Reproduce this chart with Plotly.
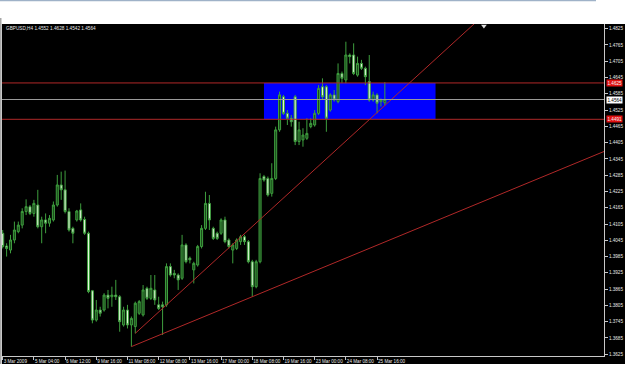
import plotly.graph_objects as go

# ---------------- data (GBPUSD, H4) ----------------
bar_index = list(range(99))
opens = [1.4071, 1.4024, 1.4009, 1.4046, 1.4077, 1.4101, 1.4151, 1.4169, 1.4144, 1.4175,
         1.4095, 1.4120, 1.4108, 1.4120, 1.4175, 1.4249, 1.4231, 1.4151, 1.4089, 1.4120,
         1.4157, 1.4122, 1.4071, 1.3859, 1.3751, 1.3788, 1.3788, 1.3843, 1.3837, 1.3843,
         1.3837, 1.3733, 1.3788, 1.3733, 1.3727, 1.3776, 1.3770, 1.3868, 1.3831, 1.3862,
         1.3807, 1.3807, 1.3807, 1.3948, 1.3923, 1.3917, 1.3905, 1.4028, 1.3979, 1.3936,
         1.3954, 1.4022, 1.4089, 1.4181, 1.4089, 1.4071, 1.4071, 1.4120, 1.4046, 1.4009,
         1.4015, 1.4040, 1.4058, 1.4040, 1.3966, 1.3874, 1.3966, 1.4280, 1.4273, 1.4218,
         1.4273, 1.4452, 1.4574, 1.4513, 1.4495, 1.4574, 1.4409, 1.4415, 1.4421, 1.4464,
         1.4470, 1.4513, 1.4611, 1.4611, 1.4525, 1.4581, 1.4556, 1.4660, 1.4636, 1.4728,
         1.4728, 1.4654, 1.4697, 1.4679, 1.4630, 1.4562, 1.4581, 1.4556, 1.4552]
highs = [1.4083, 1.4034, 1.4065, 1.4114, 1.4114, 1.4163, 1.4196, 1.4175, 1.4194, 1.4231,
         1.4132, 1.4144, 1.4138, 1.4188, 1.4286, 1.4298, 1.4302, 1.4163, 1.4095, 1.4157,
         1.4181, 1.4132, 1.4077, 1.3862, 1.3825, 1.3800, 1.3850, 1.3862, 1.3874, 1.3899,
         1.3843, 1.3800, 1.3807, 1.3764, 1.3819, 1.3825, 1.3880, 1.3874, 1.3917, 1.3917,
         1.3837, 1.3819, 1.3960, 1.3960, 1.3936, 1.3923, 1.4065, 1.4034, 1.3985, 1.3966,
         1.4028, 1.4101, 1.4224, 1.4212, 1.4095, 1.4077, 1.4126, 1.4132, 1.4052, 1.4034,
         1.4052, 1.4065, 1.4065, 1.4046, 1.3973, 1.3973, 1.4292, 1.4286, 1.4280, 1.4329,
         1.4464, 1.4593, 1.4581, 1.4525, 1.4507, 1.4581, 1.4482, 1.4458, 1.4495, 1.4495,
         1.4525, 1.4617, 1.4642, 1.4617, 1.4587, 1.4599, 1.4697, 1.4667, 1.4777, 1.4734,
         1.4771, 1.4722, 1.4710, 1.4685, 1.4728, 1.4593, 1.4587, 1.4568, 1.4628]
lows = [1.4015, 1.3985, 1.3997, 1.4034, 1.4071, 1.4089, 1.4138, 1.4138, 1.4132, 1.4089,
        1.4034, 1.4071, 1.4095, 1.4114, 1.4169, 1.4194, 1.4144, 1.4077, 1.4034, 1.4114,
        1.4114, 1.4065, 1.3850, 1.3739, 1.3745, 1.3764, 1.3782, 1.3794, 1.3800, 1.3825,
        1.3708, 1.3727, 1.3720, 1.3653, 1.3702, 1.3770, 1.3764, 1.3825, 1.3825, 1.3807,
        1.3788, 1.3696, 1.3800, 1.3911, 1.3905, 1.3862, 1.3899, 1.3960, 1.3960, 1.3886,
        1.3948, 1.4015, 1.4083, 1.4083, 1.4046, 1.4046, 1.4065, 1.4034, 1.4015, 1.3960,
        1.4009, 1.4028, 1.4028, 1.3960, 1.3837, 1.3868, 1.3960, 1.4261, 1.4206, 1.4206,
        1.4267, 1.4445, 1.4507, 1.4470, 1.4464, 1.4396, 1.4396, 1.4390, 1.4415, 1.4458,
        1.4464, 1.4507, 1.4562, 1.4445, 1.4519, 1.4556, 1.4550, 1.4624, 1.4624, 1.4697,
        1.4654, 1.4648, 1.4673, 1.4617, 1.4556, 1.4556, 1.4513, 1.4538, 1.4542]
closes = [1.4022, 1.4015, 1.4046, 1.4083, 1.4101, 1.4151, 1.4169, 1.4144, 1.4181, 1.4095,
          1.4120, 1.4108, 1.4126, 1.4175, 1.4249, 1.4231, 1.4151, 1.4083, 1.4071, 1.4153,
          1.4120, 1.4071, 1.3856, 1.3751, 1.3788, 1.3776, 1.3843, 1.3831, 1.3843, 1.3837,
          1.3745, 1.3788, 1.3733, 1.3757, 1.3813, 1.3819, 1.3862, 1.3831, 1.3868, 1.3825,
          1.3794, 1.3800, 1.3948, 1.3917, 1.3917, 1.3899, 1.4028, 1.3966, 1.3973, 1.3960,
          1.4022, 1.4089, 1.4181, 1.4120, 1.4052, 1.4052, 1.4120, 1.4040, 1.4022, 1.4028,
          1.4046, 1.4058, 1.4040, 1.3966, 1.3874, 1.3966, 1.4273, 1.4267, 1.4212, 1.4273,
          1.4452, 1.4581, 1.4513, 1.4495, 1.4482, 1.4409, 1.4452, 1.4433, 1.4439, 1.4476,
          1.4513, 1.4605, 1.4574, 1.4495, 1.4581, 1.4562, 1.4660, 1.4642, 1.4728, 1.4722,
          1.4660, 1.4697, 1.4679, 1.4648, 1.4562, 1.4581, 1.4550, 1.4562, 1.4564]

x_tick_bars = [0, 8, 16, 24, 32, 40, 48, 56, 64, 72, 80, 88, 96]
x_tick_labels = ["3 Mar 2009", "5 Mar 04:00", "6 Mar 12:00", "9 Mar 16:00", "11 Mar 08:00",
                 "12 Mar 08:00", "13 Mar 16:00", "17 Mar 00:00", "18 Mar 08:00",
                 "19 Mar 16:00", "23 Mar 00:00", "24 Mar 08:00", "25 Mar 16:00"]
y_tick_values = [1.3625, 1.3685, 1.3745, 1.3805, 1.3865, 1.3925, 1.3985, 1.4045, 1.4105,
                 1.4165, 1.4225, 1.4285, 1.4345, 1.4405, 1.4465, 1.4525, 1.4585, 1.4645,
                 1.4705, 1.4765, 1.4825]

header_text = "GBPUSD,H4 1.4552 1.4628 1.4542 1.4564"
bid_price = 1.4564
red_levels = [1.4625, 1.4491]
zone_bars = [67, 111]          # rectangle start / end bar
zone_prices = [1.4491, 1.4625]
trend_a = [(33, 1.3653), (64, 1.3837)]   # lower trendline anchors (bar, price)
trend_b = [(34, 1.3702), (112, 1.4726)]  # upper trendline anchors (bar, price)
arrow_mark = (123.4, 1.4835)

# ---------------- geometry of the view ----------------
X_RANGE = [-0.18, 154.2]
Y_RANGE = [1.36185, 1.48423]
W, H = 625, 391
ML, MR, MT, MB = 2, 21, 24, 35
PW, PH = W - ML - MR, H - MT - MB

def px_x(p):
    return (p - ML) / PW

def px_y(p):
    return 1 - (p - MT) / PH

def ray(anchors, x_end):
    (x0, y0), (x1, y1) = anchors
    slope = (y1 - y0) / (x1 - x0)
    return [x0, x_end], [y0, y0 + slope * (x_end - x0)]

fig = go.Figure()

fig.add_trace(go.Candlestick(
    x=bar_index, open=opens, high=highs, low=lows, close=closes,
    increasing=dict(line=dict(color="#3e9e3e", width=1), fillcolor="#1b4a1b"),
    decreasing=dict(line=dict(color="#3e9e3e", width=1), fillcolor="#e4f6dc"),
    whiskerwidth=0, showlegend=False, hoverinfo="skip"))

for anchors in (trend_a, trend_b):
    xs, ys = ray(anchors, X_RANGE[1])
    fig.add_trace(go.Scatter(x=xs, y=ys, mode="lines",
                             line=dict(color="#b02828", width=1),
                             showlegend=False, hoverinfo="skip"))

fig.add_trace(go.Scatter(x=[arrow_mark[0]], y=[arrow_mark[1]], mode="markers",
                         marker=dict(symbol="triangle-down", size=5, color="#e0e0e0"),
                         cliponaxis=False, showlegend=False, hoverinfo="skip"))

shapes = [
    # black chart window
    dict(type="rect", xref="paper", yref="paper", x0=0, x1=px_x(W + 5),
         y0=px_y(364), y1=1, fillcolor="black", line=dict(width=0), layer="below"),
    # left window border
    dict(type="rect", xref="paper", yref="paper", x0=px_x(0), x1=px_x(1.5),
         y0=px_y(364), y1=px_y(18), fillcolor="#a8a8a8", line=dict(width=0), layer="below"),
    # top border line
    dict(type="line", xref="paper", yref="paper", x0=px_x(0), x1=px_x(596),
         y0=px_y(0.5), y1=px_y(0.5), line=dict(color="#9fb2c8", width=1.5), layer="below"),
    # blue zone
    dict(type="rect", xref="x", yref="y", x0=zone_bars[0], x1=zone_bars[1],
         y0=zone_prices[0], y1=zone_prices[1], fillcolor="#0000ff",
         line=dict(width=0), layer="below"),
]
for lv in red_levels:
    shapes.append(dict(type="line", xref="paper", yref="y", x0=0, x1=1, y0=lv, y1=lv,
                       line=dict(color="#b02828", width=1)))
shapes.append(dict(type="line", xref="paper", yref="y", x0=0, x1=1, y0=bid_price,
                   y1=bid_price, line=dict(color="#9a9a9a", width=1)))

FONT = "Liberation Sans, Arial, sans-serif"
annotations = [
    dict(xref="paper", yref="paper", x=px_x(4), y=px_y(28), xanchor="left",
         yanchor="middle", text=header_text, showarrow=False,
         font=dict(family=FONT, size=4.7, color="#e8e8e8")),
]
for lv in red_levels:
    annotations.append(dict(xref="paper", yref="y", x=1, y=lv, xanchor="left",
                            yanchor="middle", xshift=1.5, text=f"{lv:.4f}",
                            showarrow=False, bgcolor="#e01010", borderpad=0.5,
                            font=dict(family=FONT, size=4.6, color="#f4f4f4")))
annotations.append(dict(xref="paper", yref="y", x=1, y=bid_price, xanchor="left",
                        yanchor="middle", xshift=1.5, text=f"{bid_price:.4f}",
                        showarrow=False, bgcolor="#ffffff", borderpad=0.5,
                        font=dict(family=FONT, size=4.6, color="#000000")))

fig.update_layout(
    width=W, height=H,
    margin=dict(l=ML, r=MR, t=MT, b=MB, pad=0),
    paper_bgcolor="white", plot_bgcolor="black",
    boxgap=0.25,
    shapes=shapes, annotations=annotations,
    showlegend=False,
    xaxis=dict(range=X_RANGE, rangeslider=dict(visible=False),
               tickmode="array", tickvals=x_tick_bars, ticktext=x_tick_labels,
               ticklabelposition="outside right", tickangle=0, ticks="outside", ticklen=3,
               tickcolor="#c8c8c8", showline=True, linecolor="#c8c8c8", linewidth=1,
               showgrid=False, zeroline=False,
               tickfont=dict(family=FONT, size=4.6, color="#e8e8e8")),
    yaxis=dict(range=Y_RANGE, side="right", tickmode="array",
               tickvals=y_tick_values, ticktext=[f"{v:.4f}" for v in y_tick_values],
               ticks="outside", ticklen=3, tickcolor="#c8c8c8",
               showline=True, linecolor="#c8c8c8", linewidth=1, mirror=True,
               showgrid=False, zeroline=False,
               tickfont=dict(family=FONT, size=4.6, color="#e8e8e8")),
)

fig.write_html("out.html")
